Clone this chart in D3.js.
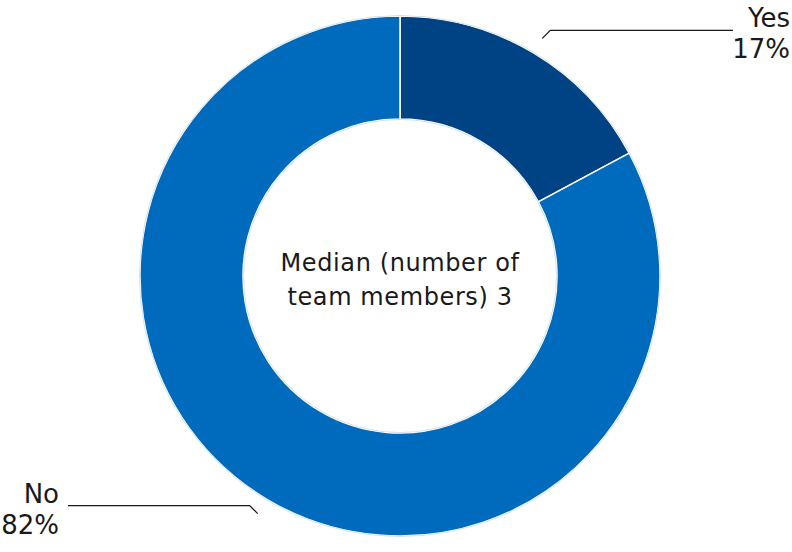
<!DOCTYPE html>
<html>
<head>
<meta charset="utf-8">
<script src="https://cdn.jsdelivr.net/npm/d3@7"></script>
<style>
  body { margin: 0; background: #fff; }
  svg text { font-family: "DejaVu Sans", sans-serif; fill: #1a1a1a; }
</style>
</head>
<body>
<svg width="792" height="552"></svg>
<script>
// chart data
var categories = ["Yes", "No"];
var values = [17, 82];
var percentLabels = ["17%", "82%"];
var colors = ["#004385", "#006bbd"];
var centerLines = ["Median (number of", "team members) 3"];

var svg = d3.select("svg");
var cx = 400, cy = 276;
var outerR = 260, innerR = 157;

var data = categories.map(function(c, i) {
  return { name: c, value: values[i], pct: percentLabels[i], color: colors[i] };
});

var pie = d3.pie().sort(null).value(function(d) { return d.value; });
var arc = d3.arc().innerRadius(innerR).outerRadius(outerR);
var arcs = pie(data);

var g = svg.append("g").attr("transform", "translate(" + cx + "," + cy + ")");

g.selectAll("path.slice")
  .data(arcs)
  .enter()
  .append("path")
  .attr("class", "slice")
  .attr("d", arc)
  .attr("fill", function(d) { return d.data.color; })
  .attr("stroke", "#ffffff")
  .attr("stroke-width", 1.5);

// thin light rim like the original
g.append("circle").attr("r", outerR + 0.5).attr("fill", "none").attr("stroke", "#d6e2ee").attr("stroke-width", 1);
g.append("circle").attr("r", innerR - 0.5).attr("fill", "none").attr("stroke", "#d6e2ee").attr("stroke-width", 1);

// leader lines + labels
var leaderR = 277;
arcs.forEach(function(d) {
  var mid = (d.startAngle + d.endAngle) / 2;
  var x0 = leaderR * Math.sin(mid), y0 = -leaderR * Math.cos(mid);
  var right = Math.sin(mid) > 0;
  var x1 = x0 + (right ? 8 : -8), y1 = y0 - 8;
  var x2 = right ? 333 : -332;
  g.append("polyline")
    .attr("points", [[x0, y0], [x1, y1], [x2, y1]].map(function(p) { return p.join(","); }).join(" "))
    .attr("fill", "none")
    .attr("stroke", "#1a1a1a")
    .attr("stroke-width", 1.3);
  var tx = right ? 390 : -341;
  var t = g.append("text")
    .attr("text-anchor", "end")
    .attr("font-size", 26);
  t.append("tspan").attr("x", tx).attr("y", y1 - 3).text(d.data.name);
  t.append("tspan").attr("x", tx).attr("y", y1 + 28).text(d.data.pct);
});

// center text
var ct = g.append("text").attr("text-anchor", "middle").attr("font-size", 24).attr("letter-spacing", 0.6);
centerLines.forEach(function(line, i) {
  ct.append("tspan").attr("x", 0).attr("y", -5 + i * 34).text(line);
});
</script>
</body>
</html>
